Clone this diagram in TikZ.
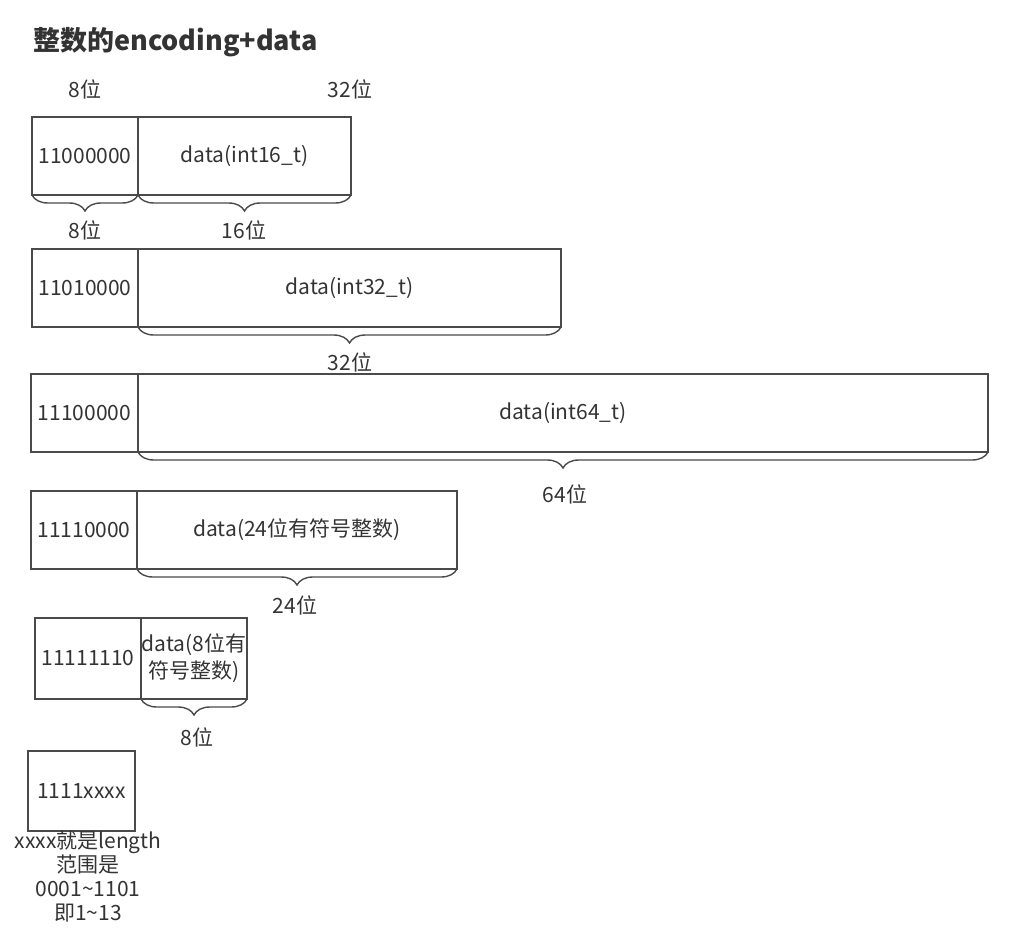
\documentclass[tikz,border=0pt]{standalone}
\usepackage{fontspec}
\setmainfont{Noto Sans CJK SC}
\usetikzlibrary{decorations.pathreplacing}
\definecolor{ln}{HTML}{4A4A4A}
\definecolor{txt}{HTML}{333333}
\begin{document}
\begin{tikzpicture}[x=1pt,y=-1pt,
  every node/.style={text=txt, font=\fontsize{21}{27}\selectfont},
  cell/.style={draw=ln, line width=1.4pt, inner sep=0pt, outer sep=0pt, anchor=north west, minimum height=78pt},
  brc/.style={draw=ln, line width=1.4pt, decorate, decoration={brace, mirror, amplitude=16pt, aspect=0.5}},
  title/.style={font=\fontsize{27}{31}\selectfont\bfseries, anchor=west, inner sep=0pt}]
\useasboundingbox (0,0) rectangle (1016,944);
\node[title] (t) at (33,42) {整数的encoding+data};
% row 1
\node (l8) at (85,89) {8位};
\node (l32) at (350,89) {32位};
\node[cell, minimum width=106pt] (a1) at (32,117) {11000000};
\node[cell, minimum width=213pt] (b1) at (a1.north east) {data(int16\_t)};
\draw[brc] (a1.south west) -- (a1.south east);
\draw[brc] (b1.south west) -- (b1.south east);
\node (la1) at (85,230) {8位};
\node (lb1) at (244,230) {16位};
% row 2
\node[cell, minimum width=106pt] (a2) at (32,249) {11010000};
\node[cell, minimum width=423pt] (b2) at (a2.north east) {data(int32\_t)};
\draw[brc] (b2.south west) -- (b2.south east);
\node (lb2) at (350,362) {32位};
% row 3
\node[cell, minimum width=107pt] (a3) at (31,374) {11100000};
\node[cell, minimum width=850pt] (b3) at (a3.north east) {data(int64\_t)};
\draw[brc] (b3.south west) -- (b3.south east);
\node (lb3) at (565,494) {64位};
% row 4
\node[cell, minimum width=106pt] (a4) at (31,491) {11110000};
\node[cell, minimum width=320pt] (b4) at (a4.north east) {data(24位有符号整数)};
\draw[brc] (b4.south west) -- (b4.south east);
\node (lb4) at (295,605) {24位};
% row 5
\node[cell, minimum width=106pt, minimum height=81pt] (a5) at (35,618) {11111110};
\node[cell, minimum width=106pt, minimum height=81pt, align=center] (b5) at (a5.north east) {data(8位有\\符号整数)};
\draw[brc] (b5.south west) -- (b5.south east);
\node (lb5) at (197,737) {8位};
% row 6
\node[cell, minimum width=107pt, minimum height=80pt] (a6) at (28,751) {1111xxxx};
\node[align=center, inner sep=0pt, font=\fontsize{21}{24}\selectfont] (n6) at (88,876) {xxxx就是length\\范围是\\0001\textasciitilde1101\\即1\textasciitilde13};
\end{tikzpicture}
\end{document}
